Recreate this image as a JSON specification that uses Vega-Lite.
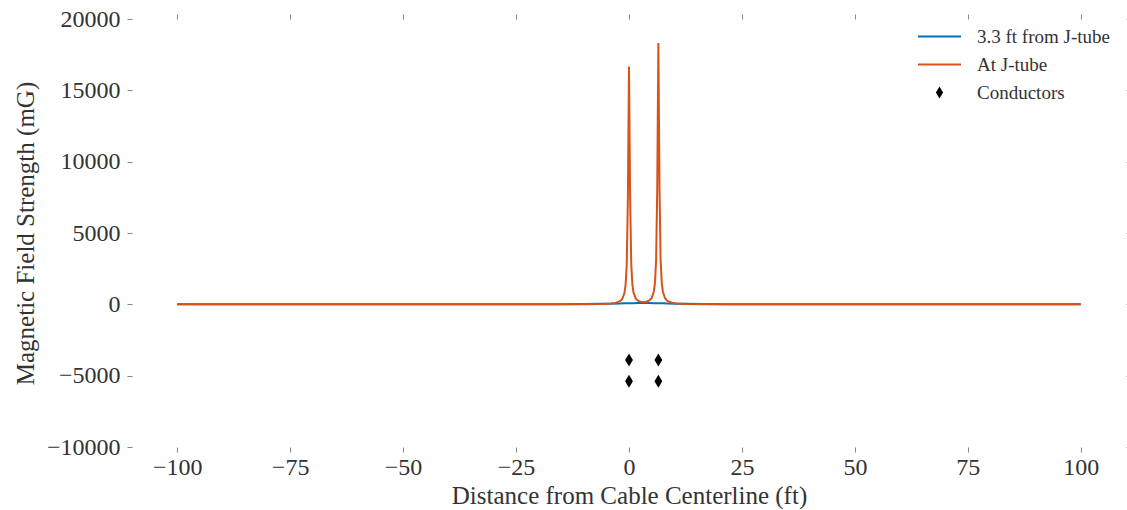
{
  "$schema": "https://vega.github.io/schema/vega-lite/v6.json",
  "width": 994,
  "height": 428,
  "autosize": "none",
  "padding": {"left": 132, "top": 19, "right": 1, "bottom": 63},
  "background": "white",
  "config": {
    "view": {"stroke": null},
    "font": "Liberation Serif",
    "axis": {
      "domain": false,
      "grid": false,
      "tickColor": "#888888",
      "tickSize": 5,
      "tickWidth": 1,
      "labelFont": "Liberation Serif",
      "labelFontSize": 24,
      "labelColor": "#333333",
      "titleFont": "Liberation Serif",
      "titleFontSize": 25,
      "titleColor": "#333333",
      "titleFontWeight": "normal"
    }
  },
  "datasets": {
    "lines": [
      {"x": -100, "B": 0.3, "series": "3.3 ft from J-tube"},
      {"x": -50, "B": 1, "series": "3.3 ft from J-tube"},
      {"x": -25, "B": 4, "series": "3.3 ft from J-tube"},
      {"x": -15, "B": 10, "series": "3.3 ft from J-tube"},
      {"x": -10, "B": 18, "series": "3.3 ft from J-tube"},
      {"x": -6, "B": 33, "series": "3.3 ft from J-tube"},
      {"x": -4, "B": 45, "series": "3.3 ft from J-tube"},
      {"x": -2, "B": 62, "series": "3.3 ft from J-tube"},
      {"x": -1, "B": 70, "series": "3.3 ft from J-tube"},
      {"x": 0, "B": 78, "series": "3.3 ft from J-tube"},
      {"x": 1, "B": 84, "series": "3.3 ft from J-tube"},
      {"x": 2, "B": 87, "series": "3.3 ft from J-tube"},
      {"x": 3.25, "B": 88, "series": "3.3 ft from J-tube"},
      {"x": 4.5, "B": 87, "series": "3.3 ft from J-tube"},
      {"x": 5.5, "B": 84, "series": "3.3 ft from J-tube"},
      {"x": 6.5, "B": 80, "series": "3.3 ft from J-tube"},
      {"x": 7.5, "B": 72, "series": "3.3 ft from J-tube"},
      {"x": 8.5, "B": 64, "series": "3.3 ft from J-tube"},
      {"x": 10.5, "B": 47, "series": "3.3 ft from J-tube"},
      {"x": 12.5, "B": 35, "series": "3.3 ft from J-tube"},
      {"x": 16.5, "B": 20, "series": "3.3 ft from J-tube"},
      {"x": 21.5, "B": 11, "series": "3.3 ft from J-tube"},
      {"x": 31.5, "B": 5, "series": "3.3 ft from J-tube"},
      {"x": 50, "B": 1.5, "series": "3.3 ft from J-tube"},
      {"x": 75, "B": 0.6, "series": "3.3 ft from J-tube"},
      {"x": 100, "B": 0.3, "series": "3.3 ft from J-tube"},
      {"x": -100, "B": 0.2, "series": "At J-tube"},
      {"x": -50, "B": 0.6, "series": "At J-tube"},
      {"x": -25, "B": 2.3, "series": "At J-tube"},
      {"x": -15, "B": 5.7, "series": "At J-tube"},
      {"x": -10, "B": 11.7, "series": "At J-tube"},
      {"x": -6, "B": 29, "series": "At J-tube"},
      {"x": -4, "B": 60, "series": "At J-tube"},
      {"x": -3, "B": 102, "series": "At J-tube"},
      {"x": -2, "B": 218, "series": "At J-tube"},
      {"x": -1.5, "B": 376, "series": "At J-tube"},
      {"x": -1, "B": 809, "series": "At J-tube"},
      {"x": -0.75, "B": 1376, "series": "At J-tube"},
      {"x": -0.5, "B": 2794, "series": "At J-tube"},
      {"x": -0.25, "B": 7420, "series": "At J-tube"},
      {"x": 0, "B": 16672, "series": "At J-tube"},
      {"x": 0.25, "B": 7423, "series": "At J-tube"},
      {"x": 0.5, "B": 2800, "series": "At J-tube"},
      {"x": 0.75, "B": 1387, "series": "At J-tube"},
      {"x": 1, "B": 823, "series": "At J-tube"},
      {"x": 1.5, "B": 398, "series": "At J-tube"},
      {"x": 2, "B": 251, "series": "At J-tube"},
      {"x": 2.5, "B": 189, "series": "At J-tube"},
      {"x": 3, "B": 166, "series": "At J-tube"},
      {"x": 3.25, "B": 165, "series": "At J-tube"},
      {"x": 3.5, "B": 169, "series": "At J-tube"},
      {"x": 4, "B": 197, "series": "At J-tube"},
      {"x": 4.5, "B": 267, "series": "At J-tube"},
      {"x": 5, "B": 431, "series": "At J-tube"},
      {"x": 5.5, "B": 898, "series": "At J-tube"},
      {"x": 5.75, "B": 1518, "series": "At J-tube"},
      {"x": 6, "B": 3071, "series": "At J-tube"},
      {"x": 6.25, "B": 8150, "series": "At J-tube"},
      {"x": 6.5, "B": 18310, "series": "At J-tube"},
      {"x": 6.75, "B": 8147, "series": "At J-tube"},
      {"x": 7, "B": 3065, "series": "At J-tube"},
      {"x": 7.25, "B": 1509, "series": "At J-tube"},
      {"x": 7.5, "B": 886, "series": "At J-tube"},
      {"x": 8, "B": 411, "series": "At J-tube"},
      {"x": 8.5, "B": 237, "series": "At J-tube"},
      {"x": 9.5, "B": 110, "series": "At J-tube"},
      {"x": 10.5, "B": 65, "series": "At J-tube"},
      {"x": 12.5, "B": 31, "series": "At J-tube"},
      {"x": 16.5, "B": 12.2, "series": "At J-tube"},
      {"x": 21.5, "B": 5.9, "series": "At J-tube"},
      {"x": 31.5, "B": 2.3, "series": "At J-tube"},
      {"x": 50, "B": 0.8, "series": "At J-tube"},
      {"x": 75, "B": 0.34, "series": "At J-tube"},
      {"x": 100, "B": 0.2, "series": "At J-tube"}
    ],
    "conductors": [
      {"x": 0, "B": -3900, "series": "Conductors"},
      {"x": 6.5, "B": -3900, "series": "Conductors"},
      {"x": 0, "B": -5400, "series": "Conductors"},
      {"x": 6.5, "B": -5400, "series": "Conductors"}
    ]
  },
  "resolve": {"axis": {"x": "independent", "y": "independent"}},
  "layer": [
    {
      "data": {"name": "lines"},
      "mark": {"type": "line", "strokeWidth": 2, "clip": true},
      "encoding": {
        "x": {
          "field": "x", "type": "quantitative",
          "scale": {"domain": [-110, 110], "nice": false, "zero": false},
          "axis": {"values": [-100, -75, -50, -25, 0, 25, 50, 75, 100], "orient": "bottom", "title": "Distance from Cable Centerline (ft)", "labelPadding": 3, "titlePadding": 4}
        },
        "y": {
          "field": "B", "type": "quantitative",
          "scale": {"domain": [-10000, 20000], "nice": false, "zero": false},
          "axis": {"values": [-10000, -5000, 0, 5000, 10000, 15000, 20000], "format": "d", "orient": "left", "title": "Magnetic Field Strength (mG)", "labelPadding": 7, "titlePadding": 8}
        },
        "color": {
          "field": "series", "type": "nominal",
          "scale": {"domain": ["3.3 ft from J-tube", "At J-tube", "Conductors"], "range": ["#0072BD", "#D95319", "#000000"]},
          "legend": {
            "title": null,
            "orient": "none",
            "legendX": 798,
            "legendY": 8,
            "padding": 0,
            "labelFont": "Liberation Serif",
            "labelFontSize": 19,
            "labelColor": "#333333",
            "symbolType": "stroke",
            "symbolSize": 1849,
            "symbolStrokeWidth": 2,
            "rowPadding": 8,
            "labelOffset": 28,
            "encode": {
              "symbols": {
                "update": {
                  "shape": {"signal": "datum.value === 'Conductors' ? 'M0,-1L0.6,0L0,1L-0.6,0Z' : 'stroke'"},
                  "size": {"signal": "datum.value === 'Conductors' ? 144 : 1849"},
                  "stroke": {"signal": "scale('color', datum.value)"},
                  "fill": {"signal": "datum.value === 'Conductors' ? '#000000' : 'transparent'"},
                  "strokeWidth": {"signal": "datum.value === 'Conductors' ? 0 : 2"},
                  "opacity": {"value": 1}
                }
              }
            }
          }
        }
      }
    },
    {
      "data": {"name": "conductors"},
      "mark": {"type": "point", "filled": true, "shape": "M0,-1L0.6,0L0,1L-0.6,0Z", "size": 169, "opacity": 1},
      "encoding": {
        "x": {
          "field": "x", "type": "quantitative",
          "axis": {"values": [-100, -75, -50, -25, 0, 25, 50, 75, 100], "orient": "top", "labels": false, "title": null}
        },
        "y": {
          "field": "B", "type": "quantitative",
          "axis": {"values": [-10000, -5000, 0, 5000, 10000, 15000, 20000], "orient": "right", "labels": false, "title": null}
        },
        "color": {"field": "series", "type": "nominal"}
      }
    }
  ]
}
